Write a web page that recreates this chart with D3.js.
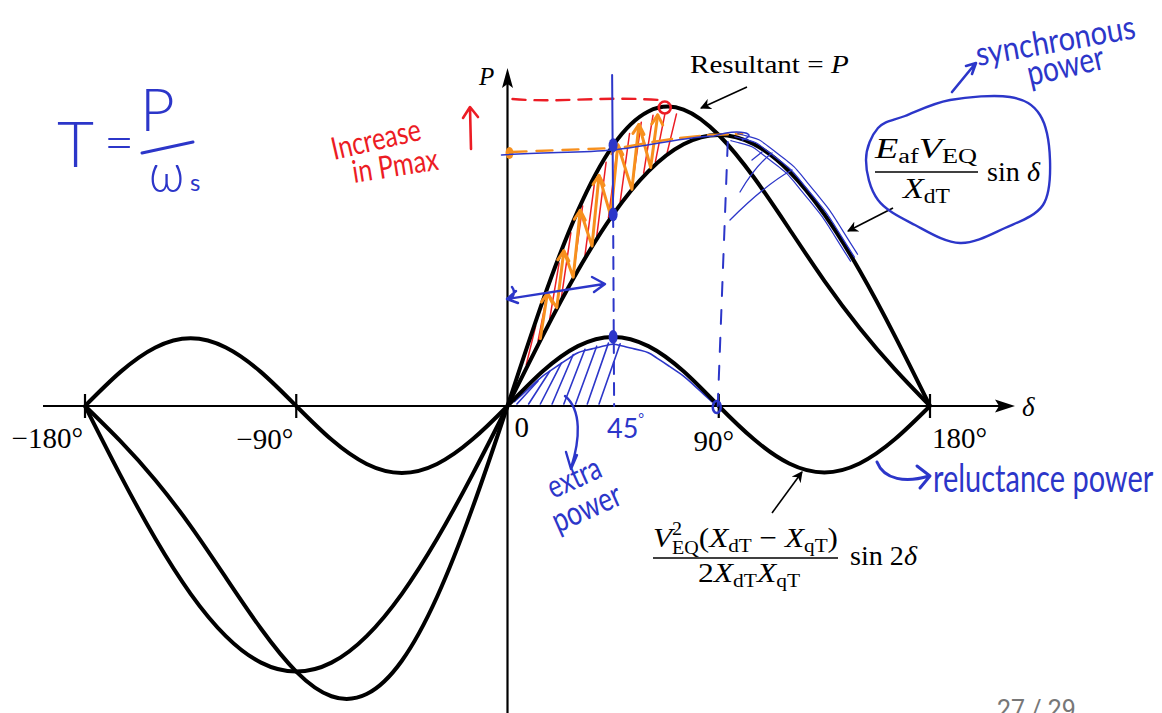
<!DOCTYPE html>
<html>
<head>
<meta charset="utf-8">
<script src="https://cdn.jsdelivr.net/npm/d3@7"></script>
<style>
  html, body { margin: 0; padding: 0; background: #fff; }
  svg { display: block; }
  .serif { font-family: "Liberation Serif", "DejaVu Serif", serif; }
  .hand { font-family: Lato, "Open Sans", sans-serif; font-weight: 400; }
</style>
</head>
<body>
<svg id="chart" width="1162" height="713"></svg>
<script>
// Load angle δ in degrees, sampled every 15°
const deltaDeg = [-180, -165, -150, -135, -120, -105, -90, -75, -60, -45, -30, -15,
                  0, 15, 30, 45, 60, 75, 90, 105, 120, 135, 150, 165, 180];

// Synchronous (field) power, (E_af V_EQ / X_dT) sin δ, in per-unit of its peak
const synchronousP = [0, -0.254, -0.49, -0.693, -0.849, -0.947, -0.98, -0.947, -0.849, -0.693, -0.49, -0.254,
                      0, 0.259, 0.5, 0.707, 0.866, 0.966, 1.0, 0.966, 0.866, 0.707, 0.5, 0.259, 0];

// Reluctance power, V²(X_dT − X_qT)/(2 X_dT X_qT) sin 2δ
const reluctanceP = [0, 0.125, 0.216, 0.25, 0.216, 0.125, 0, -0.124, -0.214, -0.247, -0.214, -0.124,
                     0, 0.128, 0.221, 0.255, 0.221, 0.128, 0, -0.123, -0.212, -0.245, -0.212, -0.123, 0];

// Resultant P = synchronous + reluctance
const resultantP = [0, -0.129, -0.274, -0.443, -0.633, -0.822, -0.98, -1.071, -1.063, -0.94, -0.704, -0.378,
                    0, 0.387, 0.721, 0.962, 1.087, 1.094, 1.0, 0.843, 0.654, 0.462, 0.288, 0.136, 0];

// Axis tick labels
const tickDeg = [-180, -90, 90, 180];
const tickLabels = ["−180°", "−90°", "90°", "180°"];

const svg = d3.select("#chart");
const x = d3.scaleLinear().domain([-180, 180]).range([85, 930]);
const y = d3.scaleLinear().domain([0, 1]).range([406, 135]);
const x0 = x(0), y0 = y(0);

const BLUE = "#2c36c9", RED = "#ec1c24", ORANGE = "#f7901e";

// Piecewise lookup used to pin hand-drawn notes onto the curves
const at = arr => d3.scaleLinear().domain(deltaDeg).range(arr);
const syncAt = at(synchronousP), relAt = at(reluctanceP), resAt = at(resultantP);

// ---------- axes ----------
const defs = svg.append("defs");
defs.append("marker").attr("id", "thinHead").attr("viewBox", "0 0 10 10")
  .attr("refX", 9).attr("refY", 5).attr("markerWidth", 11).attr("markerHeight", 11)
  .attr("markerUnits", "userSpaceOnUse").attr("orient", "auto")
  .append("path").attr("d", "M0,0 L10,5 L0,10 L3,5 Z").attr("fill", "#000");

const axes = svg.append("g").attr("stroke", "#000").attr("stroke-width", 2.2);
axes.append("line").attr("x1", 43).attr("x2", 1000).attr("y1", y0).attr("y2", y0);
axes.append("line").attr("x1", x0).attr("x2", x0).attr("y1", 713).attr("y2", 82);
svg.append("path").attr("d", `M1015,${y0} L995,${y0 - 6.5} L999,${y0} L995,${y0 + 6.5} Z`).attr("fill", "#000");
svg.append("path").attr("d", `M${x0},68 L${x0 - 5.5},88 L${x0},84 L${x0 + 5.5},88 Z`).attr("fill", "#000");

axes.selectAll("line.tick").data(tickDeg).join("line").attr("class", "tick")
  .attr("x1", d => x(d)).attr("x2", d => x(d)).attr("y1", y0 - 12).attr("y2", y0 + 12);

const lab = svg.append("g").attr("class", "serif").attr("font-size", 29).attr("fill", "#000");
const labPos = {
  "-180": { dx: -2, y: 448, anchor: "end" },
  "-90": { dx: -3, y: 449, anchor: "end" },
  "90": { dx: -5, y: 451, anchor: "middle" },
  "180": { dx: 2, y: 448, anchor: "start" }
};
lab.selectAll("text").data(tickDeg).join("text")
  .attr("x", d => x(d) + labPos[d].dx).attr("y", d => labPos[d].y)
  .attr("text-anchor", d => labPos[d].anchor)
  .text((d, i) => tickLabels[i]);
lab.append("text").attr("x", x0 + 7).attr("y", 437).text("0");
lab.append("text").attr("x", 1022).attr("y", 416).attr("font-style", "italic").attr("font-size", 27).text("δ");
lab.append("text").attr("x", 479).attr("y", 85).attr("font-style", "italic").attr("font-size", 25).text("P");

// ---------- hand-drawn hatching that sits under the curves ----------
const notes = svg.append("g").attr("fill", "none").attr("stroke-linecap", "round").attr("stroke-linejoin", "round");

// blue hatching under the reluctance hump (extra power)
d3.range(4, 44, 5).forEach(d => {
  notes.append("line").attr("stroke", BLUE).attr("stroke-width", 1.6)
    .attr("x1", x(d)).attr("y1", y0 - 2)
    .attr("x2", x(d + 9)).attr("y2", y(relAt(d + 9)) + 5);
});
// blue outline along the reluctance hump
notes.append("path").attr("stroke", BLUE).attr("stroke-width", 1.6)
  .attr("d", d3.line().curve(d3.curveBasis)(d3.range(3, 89, 3).map(d => [x(d), y(relAt(d) * 0.93) + 2])));

// red hatching between the resultant and synchronous curves
d3.range(8, 70, 5).forEach(d => {
  notes.append("line").attr("stroke", RED).attr("stroke-width", 1.5)
    .attr("x1", x(d)).attr("y1", y(syncAt(d)) - 4)
    .attr("x2", x(d + 4)).attr("y2", y(resAt(d + 4)) + 4);
});

// ---------- curves ----------
const line = d3.line().x((d, i) => x(deltaDeg[i])).y(d => y(d)).curve(d3.curveNatural);
const curves = svg.append("g").attr("fill", "none").attr("stroke", "#000").attr("stroke-width", 4);
[synchronousP, reluctanceP, resultantP].forEach(s => curves.append("path").attr("d", line(s)));

// ---------- printed annotations ----------
const ann = svg.append("g").attr("class", "serif").attr("fill", "#000");
ann.append("text").attr("transform", "translate(690,73) scale(1.12,1)").attr("font-size", 26)
  .html('Resultant = <tspan font-style="italic">P</tspan>');
ann.append("line").attr("x1", 747).attr("y1", 87).attr("x2", 701).attr("y2", 108)
  .attr("stroke", "#000").attr("stroke-width", 1.6).attr("marker-end", "url(#thinHead)");

const fit = (sel, len) => sel.attr("textLength", len).attr("lengthAdjust", "spacingAndGlyphs");

// synchronous term label
const sy = ann.append("g").attr("font-size", 29);
fit(sy.append("text").attr("x", 875).attr("y", 158)
  .html('<tspan font-style="italic">E</tspan><tspan font-size="20" dy="5">af</tspan><tspan font-style="italic" dy="-5">V</tspan><tspan font-size="20" dy="5">EQ</tspan>'), 102);
sy.append("line").attr("x1", 875).attr("x2", 978).attr("y1", 172).attr("y2", 172).attr("stroke", "#000").attr("stroke-width", 1.7);
fit(sy.append("text").attr("x", 903).attr("y", 198)
  .html('<tspan font-style="italic">X</tspan><tspan font-size="20" dy="5">dT</tspan>'), 47);
fit(sy.append("text").attr("x", 987).attr("y", 181).attr("font-size", 28)
  .html('sin <tspan font-style="italic">δ</tspan>'), 53);
ann.append("line").attr("x1", 893).attr("y1", 208).attr("x2", 848).attr("y2", 231)
  .attr("stroke", "#000").attr("stroke-width", 1.6).attr("marker-end", "url(#thinHead)");

// reluctance term label
const re = ann.append("g").attr("font-size", 28);
fit(re.append("text").attr("x", 653).attr("y", 547)
  .html('<tspan font-style="italic">V</tspan><tspan font-size="18" dy="-12">2</tspan><tspan font-size="18" dx="-9" dy="19">EQ</tspan><tspan dy="-7">(</tspan><tspan font-style="italic">X</tspan><tspan font-size="19" dy="5">dT</tspan><tspan dy="-5"> − </tspan><tspan font-style="italic">X</tspan><tspan font-size="19" dy="5">qT</tspan><tspan dy="-5">)</tspan>'), 185);
re.append("line").attr("x1", 653).attr("x2", 838).attr("y1", 558).attr("y2", 558).attr("stroke", "#000").attr("stroke-width", 1.7);
fit(re.append("text").attr("x", 698).attr("y", 582)
  .html('2<tspan font-style="italic">X</tspan><tspan font-size="19" dy="5">dT</tspan><tspan font-style="italic" dy="-5">X</tspan><tspan font-size="19" dy="5">qT</tspan>'), 102);
fit(re.append("text").attr("x", 850).attr("y", 565).attr("font-size", 28)
  .html('sin 2<tspan font-style="italic">δ</tspan>'), 67);
ann.append("line").attr("x1", 772).attr("y1", 513).attr("x2", 802).attr("y2", 472)
  .attr("stroke", "#000").attr("stroke-width", 1.6).attr("marker-end", "url(#thinHead)");

// ---------- hand-drawn notes over the curves ----------
const over = svg.append("g").attr("fill", "none").attr("stroke-linecap", "round").attr("stroke-linejoin", "round");

// red: rise in maximum power
over.append("path").attr("stroke", RED).attr("stroke-width", 2.4).attr("stroke-dasharray", "13,9")
  .attr("d", `M${x0 + 5},99 C560,103 600,96 ${x(67) - 6},100`);
over.append("circle").attr("cx", x(67)).attr("cy", y(resAt(67)) - 3).attr("r", 6).attr("stroke", RED).attr("stroke-width", 2.6);
over.append("path").attr("stroke", RED).attr("stroke-width", 2.6).attr("d", "M471,149 L470,108 M463,118 L470,107 L478,117");

// orange: level at δ = 45° and zig-zag arrows in the gap
over.append("path").attr("stroke", ORANGE).attr("stroke-width", 2.4).attr("stroke-dasharray", "16,10")
  .attr("d", `M${x0 + 3},152 L${x(45)},148`);
over.append("path").attr("stroke", ORANGE).attr("stroke-width", 2.4).attr("stroke-dasharray", "20,8")
  .attr("d", `M${x(50)},147 C660,140 700,134 ${x(100)},134`);
over.append("ellipse").attr("cx", x0 + 2).attr("cy", 153).attr("rx", 4).attr("ry", 6).attr("fill", ORANGE).attr("stroke", "none");
const tops = [17, 24, 31, 39, 47, 56, 64];
const zig = [];
tops.forEach(d => { zig.push([x(d - 3), y(syncAt(d - 3)) - 2]); zig.push([x(d), y(resAt(d)) + 4]); });
over.append("path").attr("stroke", ORANGE).attr("stroke-width", 3).attr("d", d3.line()(zig));
tops.forEach(d => {
  const px = x(d), py = y(resAt(d)) + 4;
  over.append("path").attr("stroke", ORANGE).attr("stroke-width", 3)
    .attr("d", `M${px - 6},${py + 9} L${px},${py} L${px + 5},${py + 10}`);
});

// blue: construction lines at δ = 45° and 90°
over.append("line").attr("stroke", BLUE).attr("stroke-width", 2).attr("x1", x(45) - 1).attr("x2", x(45)).attr("y1", 75).attr("y2", 215);
over.append("line").attr("stroke", BLUE).attr("stroke-width", 2).attr("stroke-dasharray", "12,9")
  .attr("x1", x(45)).attr("x2", x(45) + 1).attr("y1", 215).attr("y2", y0);
over.append("line").attr("stroke", BLUE).attr("stroke-width", 2).attr("stroke-dasharray", "14,14")
  .attr("x1", x(90) + 9).attr("x2", x(90) - 1).attr("y1", 142).attr("y2", y0);
over.append("path").attr("stroke", BLUE).attr("stroke-width", 1.5)
  .attr("d", `M${x0 - 6},155 C540,152 580,153 ${x(45)},150 C650,146 690,136 ${x(88)},136 C740,128 760,134 ${x(100)},140`);
[[45, resAt(45)], [45, syncAt(45)], [45, relAt(45)]].forEach(([d, v]) => {
  over.append("ellipse").attr("cx", x(d)).attr("cy", y(v)).attr("rx", 4.5).attr("ry", 7).attr("fill", BLUE).attr("stroke", "none");
});
over.append("ellipse").attr("cx", x(90) - 2).attr("cy", y0 + 1).attr("rx", 4).attr("ry", 6).attr("stroke", BLUE).attr("stroke-width", 2.5);

// blue tracing along the synchronous curve past its peak
[-2, 2, 5].forEach(off => {
  over.append("path").attr("stroke", BLUE).attr("stroke-width", 1.2)
    .attr("d", d3.line().curve(d3.curveBasis)(d3.range(96, 150, 3).map(d => [x(d) + off, y(syncAt(d)) - off])));
});
over.append("path").attr("stroke", BLUE).attr("stroke-width", 1.3)
  .attr("d", "M730,220 C750,200 770,182 792,170 M740,192 C750,175 760,162 772,153 M752,160 L762,152");

// blue: delta sweep arrow
over.append("path").attr("stroke", BLUE).attr("stroke-width", 2.4)
  .attr("d", "M507,299 L604,284 M592,277 L605,284 L594,292 M516,291 L507,299 L518,303 M512,287 C516,292 513,298 509,300");

// blue: arrow down to "extra power"
over.append("path").attr("stroke", BLUE).attr("stroke-width", 2.4)
  .attr("d", "M565,396 C582,410 580,440 571,468 M566,452 L571,469 L577,455");
// blue: arrow to "reluctance power"
over.append("path").attr("stroke", BLUE).attr("stroke-width", 3)
  .attr("d", "M877,462 C884,480 906,483 929,476 M917,466 L930,476 L920,488");
// blue: ring round the synchronous term and arrow to "synchronous power"
over.append("path").attr("stroke", BLUE).attr("stroke-width", 2.4)
  .attr("d", d3.line().curve(d3.curveCardinalClosed)([[905, 116], [950, 100], [1010, 97], [1040, 115], [1050, 160],
    [1043, 205], [1005, 228], [960, 243], [915, 225], [878, 200], [866, 160], [878, 128]]));
over.append("path").attr("stroke", BLUE).attr("stroke-width", 2.6)
  .attr("d", "M952,92 L975,64 M966,66 L976,63 L972,74");

// handwritten words
const hand = svg.append("g").attr("class", "hand");
hand.append("text").attr("x", 57).attr("y", 167).attr("font-size", 64).attr("font-weight", 300).attr("fill", BLUE).text("T");
hand.append("text").attr("x", 104).attr("y", 160).attr("font-size", 52).attr("font-weight", 300).attr("fill", BLUE).text("=");
hand.append("text").attr("x", 140).attr("y", 131).attr("font-size", 60).attr("font-weight", 300).attr("fill", BLUE).text("P");
over.append("path").attr("stroke", BLUE).attr("stroke-width", 3).attr("d", "M142,153 L193,142");
hand.append("text").attr("transform", "translate(149,192) scale(1.05,1.2)").attr("font-size", 46).attr("font-weight", 300).attr("fill", BLUE).text("ω");
hand.append("text").attr("x", 190).attr("y", 191).attr("font-size", 24).attr("fill", BLUE).text("s");

hand.append("text").attr("transform", "translate(334,160) rotate(-13) scale(1,1.25)").attr("font-size", 25)
  .attr("fill", RED).text("Increase");
hand.append("text").attr("transform", "translate(354,183) rotate(-9) scale(1,1.25)").attr("font-size", 25)
  .attr("fill", RED).text("in Pmax");

hand.append("text").attr("transform", "translate(978,66) rotate(-10) scale(1,1.15)").attr("font-size", 29)
  .attr("fill", BLUE).text("synchronous");
hand.append("text").attr("transform", "translate(1030,86) rotate(-13) scale(1,1.25)").attr("font-size", 28)
  .attr("fill", BLUE).text("power");

hand.append("text").attr("transform", "translate(933,492) scale(1,1.35)").attr("font-size", 29)
  .attr("fill", BLUE).text("reluctance power");

hand.append("text").attr("transform", "translate(553,499) rotate(-24) scale(1,1.3)").attr("font-size", 25)
  .attr("fill", BLUE).text("extra");
hand.append("text").attr("transform", "translate(558,533) rotate(-24) scale(1,1.3)").attr("font-size", 26)
  .attr("fill", BLUE).text("power");

hand.append("text").attr("x", 607).attr("y", 438).attr("font-size", 27).attr("fill", BLUE)
  .html('45<tspan font-size="14" dy="-15">°</tspan>');

// slide counter
svg.append("text").attr("x", 997).attr("y", 718).attr("font-family", "Roboto, 'Open Sans', sans-serif")
  .attr("font-size", 25).attr("fill", "#777").text("27 / 29");
</script>
</body>
</html>
